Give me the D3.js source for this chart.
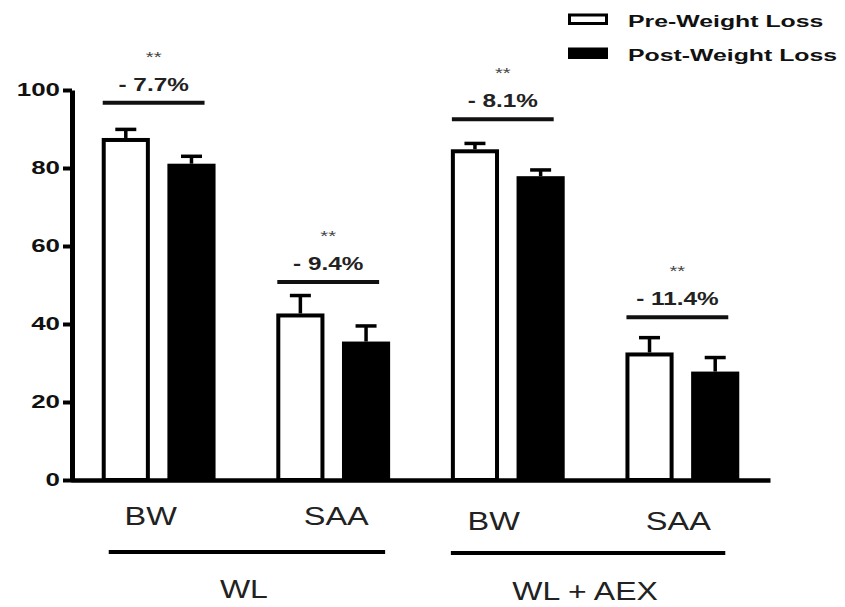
<!DOCTYPE html>
<html>
<head>
<meta charset="utf-8">
<script src="https://cdn.jsdelivr.net/npm/d3@7"></script>
<style>
  body { margin: 0; background: #fff; }
  svg { display: block; }
</style>
</head>
<body>
<div id="chart"></div>
<script>
// values (means with upward SEM bars)
var clusters = ["WL-BW", "WL-SAA", "AEX-BW", "AEX-SAA"];
var measureLabels = ["BW", "SAA", "BW", "SAA"];
var series = ["pre", "post"];
var seriesNames = ["Pre-Weight Loss", "Post-Weight Loss"];
var preMeans = [87.7, 42.7, 84.8, 32.7];
var preErr = [2.2, 4.6, 1.5, 3.8];
var postMeans = [81.1, 35.5, 77.9, 27.8];
var postErr = [1.9, 4.0, 1.6, 3.6];
var changeLabels = ["- 7.7%", "- 9.4%", "- 8.1%", "- 11.4%"];
var sigMarks = ["**", "**", "**", "**"];
var bracketLevel = [96.7, 50.8, 92.5, 41.7];
var groupNames = ["WL", "WL + AEX"];
var groupMembers = [["WL-BW", "WL-SAA"], ["AEX-BW", "AEX-SAA"]];
var yTicks = [0, 20, 40, 60, 80, 100];

var width = 845, height = 607;
var font = "'Liberation Sans', Arial, Helvetica, sans-serif";
var stretch = 1.35; // the source figure is widened horizontally

var svg = d3.select("#chart").append("svg")
    .attr("width", width)
    .attr("height", height);

var y = d3.scaleLinear().domain([0, 100]).range([480, 90]);

var x = d3.scaleBand()
    .domain(clusters)
    .range([71, 770])
    .paddingInner(0.348)
    .paddingOuter(0.176);

var xs = d3.scaleBand()
    .domain(series)
    .range([0, x.bandwidth()])
    .paddingInner(0.267)
    .paddingOuter(0);

var rows = [];
clusters.forEach(function (c, i) {
    rows.push({ cluster: c, s: "pre", v: preMeans[i], e: preErr[i] });
    rows.push({ cluster: c, s: "post", v: postMeans[i], e: postErr[i] });
});

function stretchText(sel, px, py, k) {
    return sel.attr("transform", "translate(" + px + "," + py + ") scale(" + (k || stretch) + ",1)");
}

// error bars (drawn first so the bar outline sits over the stem)
var eb = svg.append("g").attr("class", "errors");
rows.forEach(function (d) {
    var cx = x(d.cluster) + xs(d.s) + xs.bandwidth() / 2;
    eb.append("line")
        .attr("x1", cx).attr("x2", cx)
        .attr("y1", y(d.v)).attr("y2", y(d.v + d.e))
        .attr("stroke", "#000").attr("stroke-width", 3.5);
    eb.append("line")
        .attr("x1", cx - 10.5).attr("x2", cx + 10.5)
        .attr("y1", y(d.v + d.e)).attr("y2", y(d.v + d.e))
        .attr("stroke", "#000").attr("stroke-width", 3.5);
});

// bars
var sw = 4;
svg.append("g").attr("class", "bars")
    .selectAll("rect")
    .data(rows)
    .enter().append("rect")
    .attr("x", function (d) { return x(d.cluster) + xs(d.s) + sw / 2; })
    .attr("width", xs.bandwidth() - sw)
    .attr("y", function (d) { return y(d.v) + sw / 2; })
    .attr("height", function (d) { return y(0) - y(d.v) - sw / 2; })
    .attr("fill", function (d) { return d.s === "pre" ? "#fff" : "#000"; })
    .attr("stroke", "#000")
    .attr("stroke-width", sw);

// significance brackets
clusters.forEach(function (c, i) {
    var x0 = x(c) + 1, x1 = x(c) + x.bandwidth() - 11;
    var by = y(bracketLevel[i]);
    svg.append("line")
        .attr("x1", x0).attr("x2", x1)
        .attr("y1", by).attr("y2", by)
        .attr("stroke", "#111").attr("stroke-width", 4);
    stretchText(svg.append("text"), (x0 + x1) / 2, by - 12)
        .attr("text-anchor", "middle")
        .style("font-family", font)
        .style("font-weight", "bold")
        .style("font-size", "18px")
        .attr("fill", "#222")
        .text(changeLabels[i]);
    stretchText(svg.append("text"), (x0 + x1) / 2, by - 41)
        .attr("text-anchor", "middle")
        .style("font-family", font)
        .style("font-size", "15px")
        .attr("fill", "#444")
        .text(sigMarks[i]);
});

// y axis
var yAxis = svg.append("g")
    .attr("transform", "translate(72,0)")
    .call(d3.axisLeft(y).tickValues(yTicks).tickSize(9).tickSizeOuter(0).tickPadding(3));
yAxis.select(".domain").attr("stroke", "#000").attr("stroke-width", 5);
yAxis.selectAll(".tick line").attr("stroke", "#000").attr("stroke-width", 4);
yAxis.selectAll(".tick text")
    .attr("transform", "scale(1.4,1)")
    .attr("x", -12 / 1.4)
    .attr("fill", "#111")
    .style("font-family", font)
    .style("font-weight", "bold")
    .style("font-size", "18.5px");

// x axis baseline
var xAxis = svg.append("g")
    .attr("transform", "translate(0," + y(0) + ")")
    .call(d3.axisBottom(x).tickValues([]).tickSizeOuter(0));
xAxis.select(".domain").attr("stroke", "#000").attr("stroke-width", 4.5);

// category labels under the bars
var labelShift = [-8, 3, -14, -4];
clusters.forEach(function (c, i) {
    stretchText(svg.append("text"), x(c) + x.bandwidth() / 2 + labelShift[i], i < 2 ? 525 : 530, 1.3)
        .attr("text-anchor", "middle")
        .style("font-family", font)
        .style("font-size", "25px")
        .attr("fill", "#222")
        .text(measureLabels[i]);
});

// group lines and names
groupMembers.forEach(function (m, gi) {
    var x0 = x(m[0]) + (gi === 0 ? 7 : 0);
    var x1 = x(m[m.length - 1]) + x.bandwidth() - (gi === 0 ? 5 : 14);
    var ly = gi === 0 ? 552 : 553;
    svg.append("line")
        .attr("x1", x0).attr("x2", x1)
        .attr("y1", ly).attr("y2", ly)
        .attr("stroke", "#000").attr("stroke-width", 4);
    stretchText(svg.append("text"), (x0 + x1) / 2 - 3, gi === 0 ? 598 : 600, 1.28)
        .attr("text-anchor", "middle")
        .style("font-family", font)
        .style("font-size", "25px")
        .attr("fill", "#222")
        .text(groupNames[gi]);
});

// legend
var legend = svg.append("g").attr("class", "legend");
series.forEach(function (s, i) {
    var ly = 19 + i * 34;
    legend.append("rect")
        .attr("x", 569.5).attr("y", ly - 4)
        .attr("width", 37).attr("height", 8.5)
        .attr("fill", s === "pre" ? "#fff" : "#000")
        .attr("stroke", "#000").attr("stroke-width", 3);
    stretchText(legend.append("text"), 628, ly + 8, 1.46)
        .style("font-family", font)
        .style("font-weight", "bold")
        .style("font-size", "17px")
        .attr("fill", "#111")
        .text(seriesNames[i]);
});
</script>
</body>
</html>
